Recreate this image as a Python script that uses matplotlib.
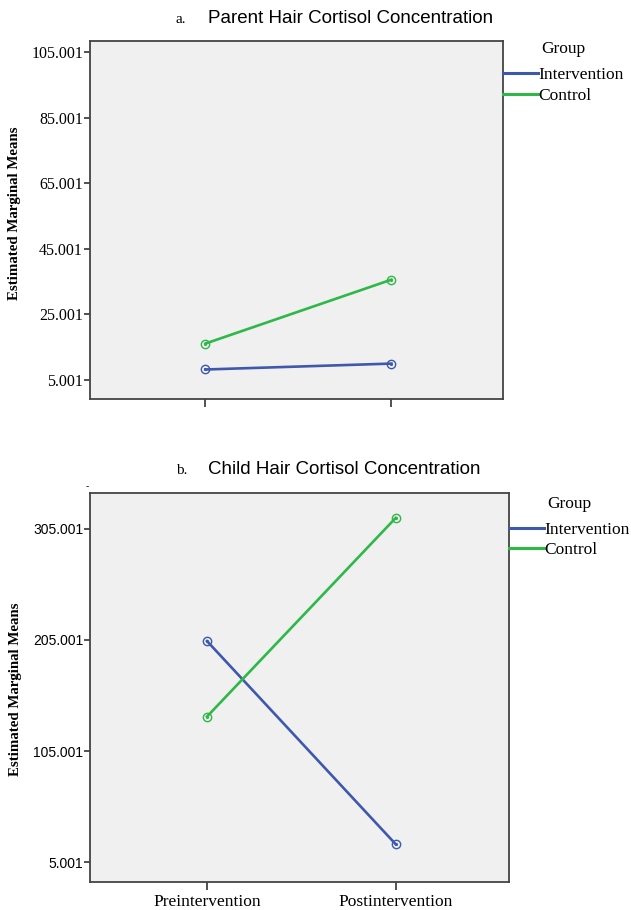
import numpy as np
import matplotlib
matplotlib.use('Agg')
import matplotlib.pyplot as plt
from matplotlib.lines import Line2D

# data
time_labels = ['Preintervention', 'Postintervention']
groups = ['Intervention', 'Control']
colors = ['#3E58AC', '#2EB848']

parent_intervention = [8.2, 10.0]
parent_control = [16.1, 35.6]
parent_ticks = [5.001, 25.001, 45.001, 65.001, 85.001, 105.001]

child_intervention = [204.0, 21.0]
child_control = [136.0, 315.0]
child_ticks = [5.001, 105.001, 205.001, 305.001]

serif = 'Liberation Serif'
sans = 'Liberation Sans'

fig = plt.figure(figsize=(6.31, 9.10), dpi=100)
ax1 = fig.add_axes([90/631, 1-399/910, 413/631, 358/910])
ax2 = fig.add_axes([90/631, 1-882/910, 419/631, 389/910])

x = np.arange(len(time_labels))

def draw(ax, series, ticks, ylim, tickfont, ticksize, xlabels, leg_y):
    ax.set_facecolor('#F0F0F0')
    for vals, c, name in zip(series, colors, groups):
        ax.plot(x, vals, color=c, lw=1.9, marker='o', ms=6, mfc='none',
                mec=c, mew=1.0)
        ax.plot(x, vals, ls='none', marker='.', ms=2.5, color=c)
    ax.set_xlim(-0.62, 1.6)
    ax.set_ylim(*ylim)
    ax.set_yticks(ticks)
    ax.set_yticklabels([f'{t:.3f}' for t in ticks], family=tickfont, fontsize=ticksize)
    ax.set_xticks(x)
    if xlabels:
        ax.set_xticklabels(time_labels, family=serif, fontsize=12.5)
    else:
        ax.set_xticklabels([])
    ax.tick_params(axis='y', length=4, width=1.2, color='#333333', pad=1)
    ax.tick_params(axis='x', length=6, width=1.2, color='#333333', pad=3)
    for s in ax.spines.values():
        s.set_color('#444444')
        s.set_linewidth(1.3)
    ax.set_ylabel('Estimated Marginal Means', family=serif, fontweight='bold',
                  fontsize=10.7)
    ax.yaxis.label.set_va('center')
    handles = [Line2D([], [], color=c, lw=2.2) for c in colors]
    leg = ax.legend(handles, groups, loc='upper left', bbox_to_anchor=(1.0, leg_y),
                    frameon=False, title='Group', handlelength=2.0,
                    handletextpad=0.05, borderpad=0, borderaxespad=0,
                    labelspacing=0.25, prop={'family': serif, 'size': 12.5})
    leg.get_title().set_family(serif)
    leg.get_title().set_fontsize(12.5)
    leg._legend_box.sep = 7

draw(ax1, [parent_intervention, parent_control], parent_ticks, (-0.8, 108.4),
     serif, 11.5, False, 0.999)
draw(ax2, [child_intervention, child_control], child_ticks, (-13.0, 337.4),
     sans, 10, True, 0.992)

ax1.yaxis.set_label_coords((15-90)/413, 0.52)
ax2.yaxis.set_label_coords((15-90)/419, 0.495)

fig.text(176/631, 1-23/910, 'a.', family=serif, fontsize=11, va='baseline')
fig.text(208/631, 1-23/910, 'Parent Hair Cortisol Concentration', family=sans,
         fontsize=13.5, va='baseline')
fig.text(176/631, 1-474/910, 'b.', family=serif, fontsize=11, va='baseline')
fig.text(208/631, 1-474/910, 'Child Hair Cortisol Concentration', family=sans,
         fontsize=13.5, va='baseline')
fig.text(86/631, 1-486/910, '-', family=sans, fontsize=7, va='center')

fig.savefig('out.png', dpi=100)
